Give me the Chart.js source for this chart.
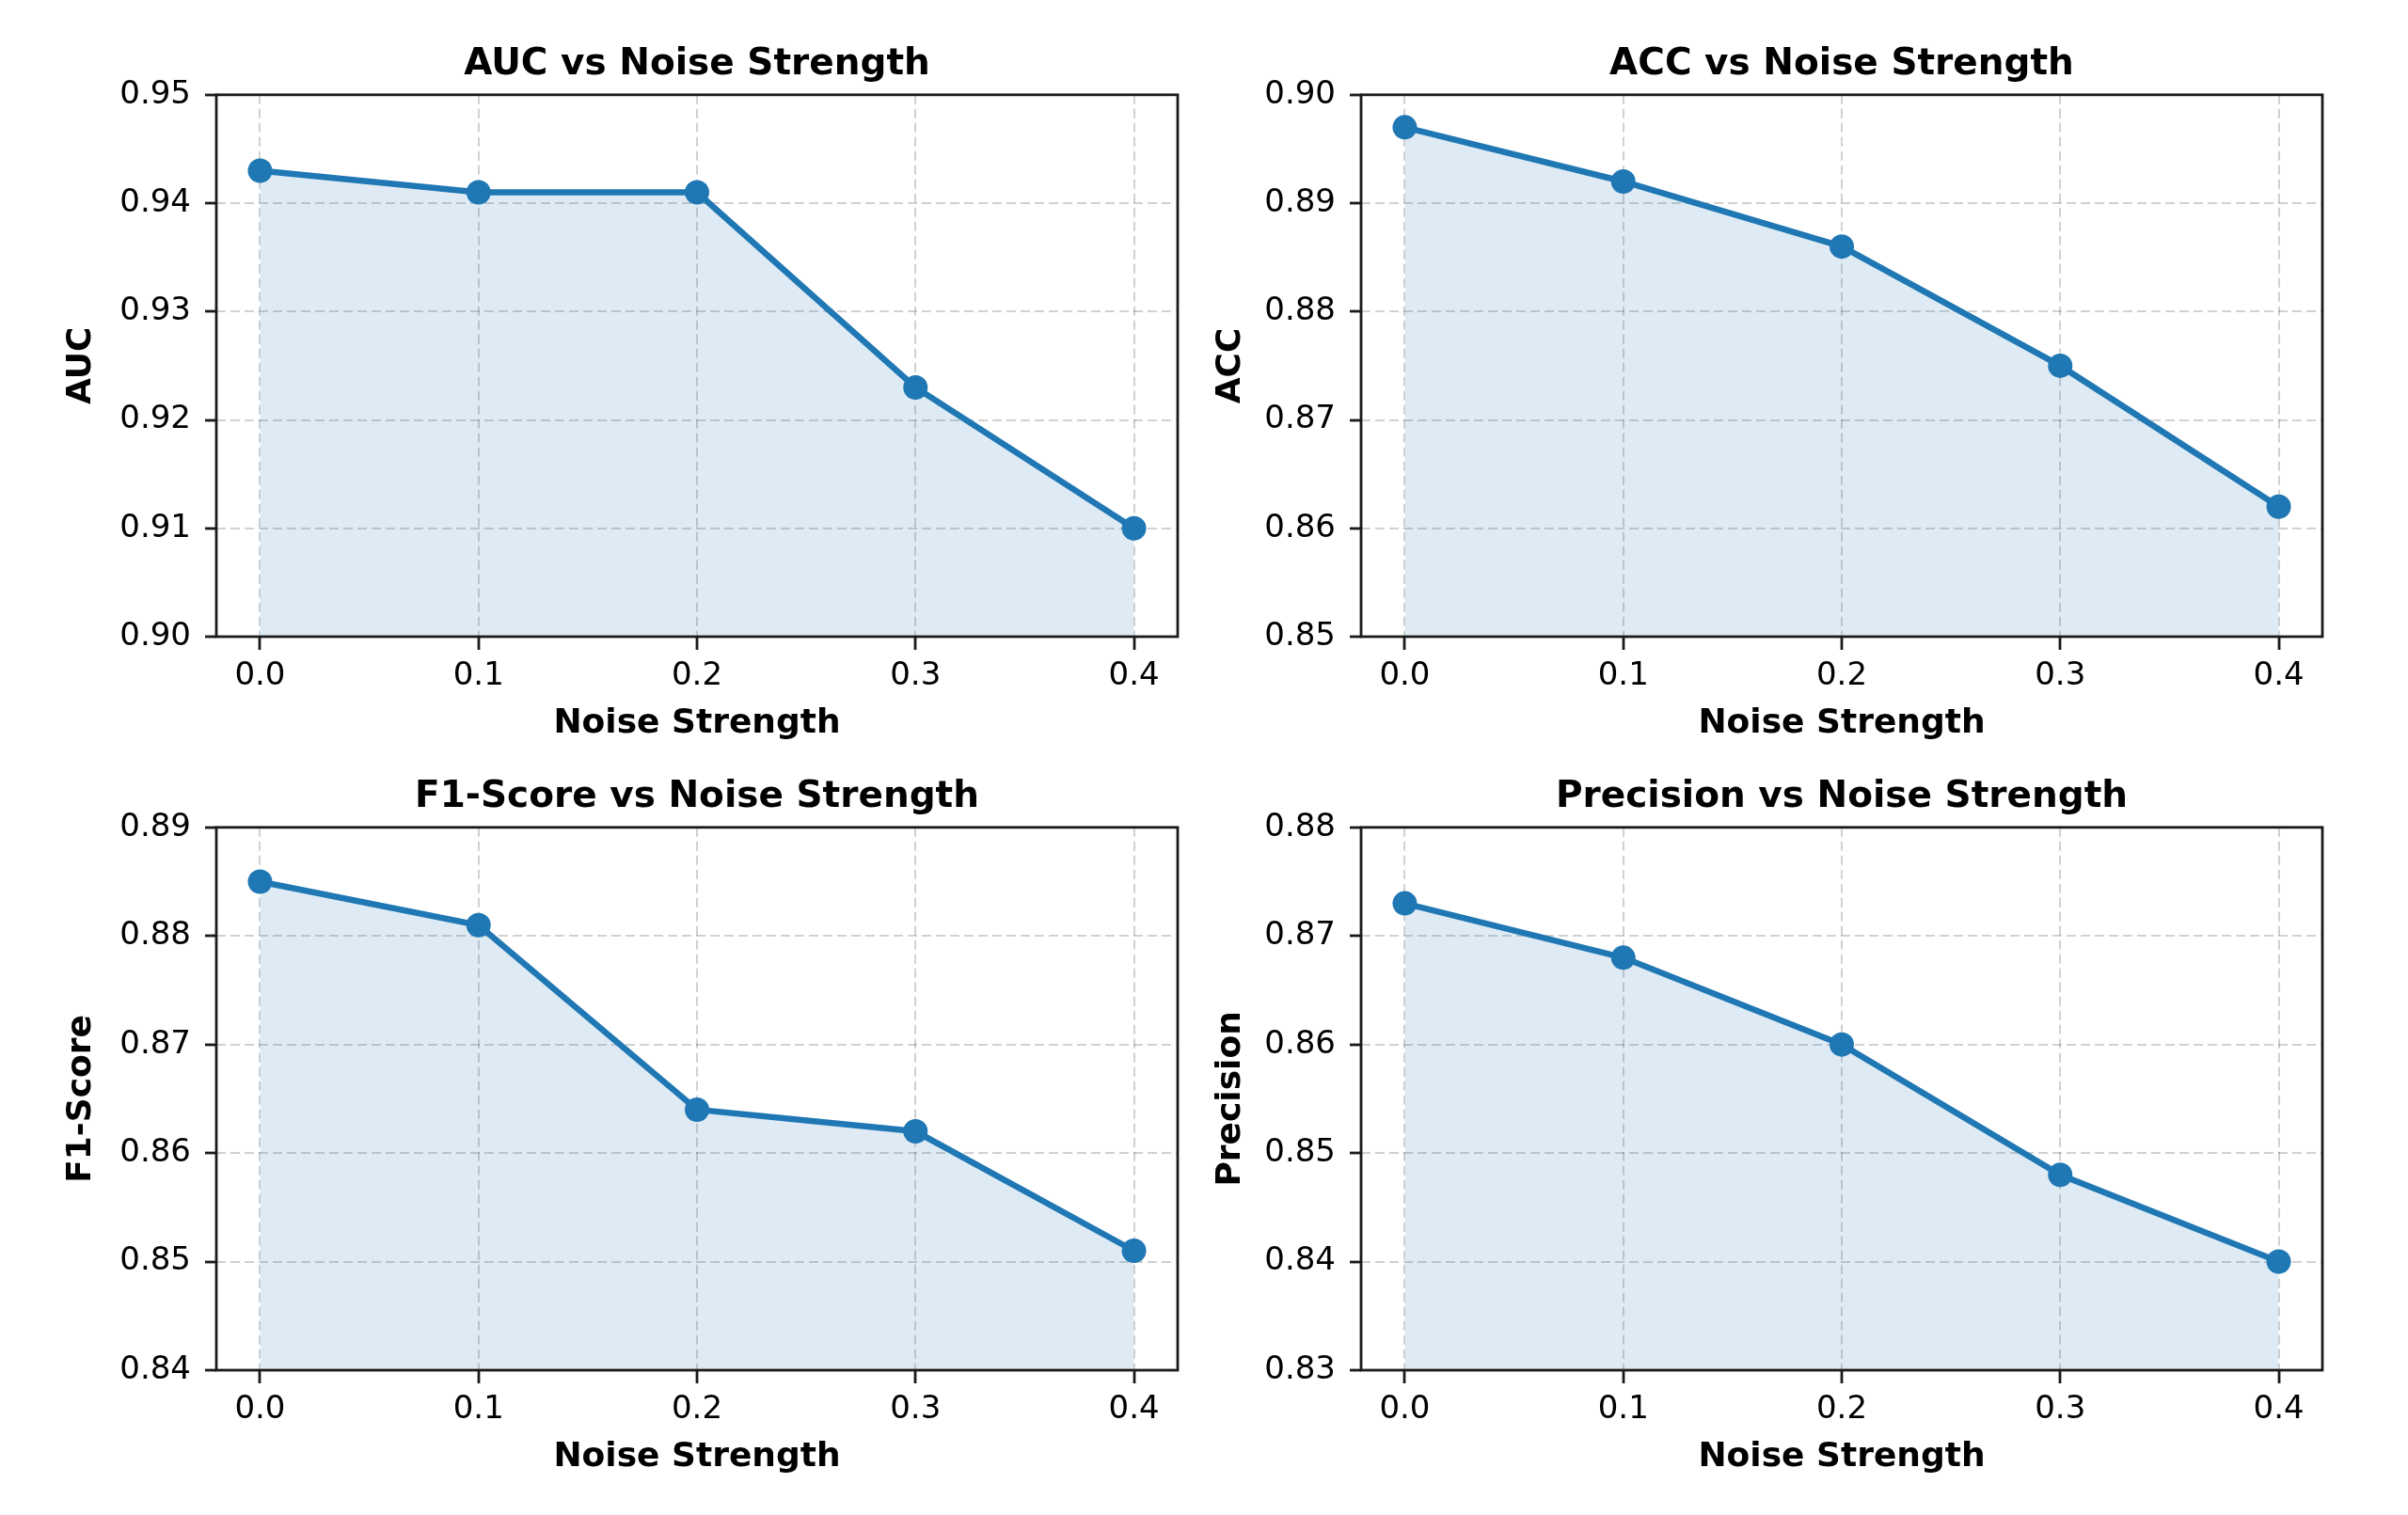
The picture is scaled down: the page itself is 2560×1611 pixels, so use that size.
<!DOCTYPE html>
<html>
<head>
<meta charset="utf-8">
<title>Metrics vs Noise Strength</title>
<script src="https://cdn.jsdelivr.net/npm/chart.js@4.4.1/dist/chart.umd.min.js"></script>
<style>
    html, body { margin: 0; padding: 0; background: #ffffff; }
    #board { position: relative; width: 2560px; height: 1611px; }
    .panel { position: absolute; }
</style>
</head>
<body>
<div id="board"></div>
<script>
// Data
const noiseLevels = [0.0, 0.1, 0.2, 0.3, 0.4];

const aucValues = [0.943, 0.941, 0.941, 0.923, 0.910];
const accValues = [0.897, 0.892, 0.886, 0.875, 0.862];
const f1Values = [0.885, 0.881, 0.864, 0.862, 0.851];
const precisionValues = [0.873, 0.868, 0.860, 0.848, 0.840];

const aucTicks = [0.90, 0.91, 0.92, 0.93, 0.94, 0.95];
const accTicks = [0.85, 0.86, 0.87, 0.88, 0.89, 0.90];
const f1Ticks = [0.84, 0.85, 0.86, 0.87, 0.88, 0.89];
const precisionTicks = [0.83, 0.84, 0.85, 0.86, 0.87, 0.88];

const xTickLabels = ['0.0', '0.1', '0.2', '0.3', '0.4'];

const FONT = '"DejaVu Sans", "Liberation Sans", sans-serif';
const LINE_COLOR = '#1f77b4';

// Layout of the four panels (canvas box + paddings)
const panels = [
    { metric: 'AUC', values: aucValues, ticks: aucTicks, left: 0, top: 0, height: 800,
      yWidth: 230, yTitlePad: 65, padRight: 28, padBottom: 3, titlePadTop: 45 },
    { metric: 'ACC', values: accValues, ticks: accTicks, left: 1280, top: 0, height: 800,
      yWidth: 167, yTitlePad: 7, padRight: 91, padBottom: 3, titlePadTop: 45 },
    { metric: 'F1-Score', values: f1Values, ticks: f1Ticks, left: 0, top: 800, height: 811,
      yWidth: 230, yTitlePad: 65, padRight: 28, padBottom: 34, titlePadTop: 24 },
    { metric: 'Precision', values: precisionValues, ticks: precisionTicks, left: 1280, top: 800, height: 811,
      yWidth: 167, yTitlePad: 7, padRight: 91, padBottom: 34, titlePadTop: 24 }
];

// Draw the four spines around the plot area
const frameBox = {
    id: 'frameBox',
    afterDatasetsDraw(chart) {
        const { ctx, chartArea } = chart;
        ctx.save();
        ctx.strokeStyle = '#1a1a1a';
        ctx.lineWidth = 2.8;
        ctx.strokeRect(chartArea.left, chartArea.top,
            chartArea.right - chartArea.left, chartArea.bottom - chartArea.top);
        ctx.restore();
    }
};

function buildPanel(panel) {
    const holder = document.createElement('div');
    holder.className = 'panel';
    holder.style.left = panel.left + 'px';
    holder.style.top = panel.top + 'px';

    const canvas = document.createElement('canvas');
    canvas.width = 1280;
    canvas.height = panel.height;
    canvas.style.width = '1280px';
    canvas.style.height = panel.height + 'px';
    holder.appendChild(canvas);
    document.getElementById('board').appendChild(holder);

    const points = noiseLevels.map((x, i) => ({ x: x, y: panel.values[i] }));
    const yMin = panel.ticks[0];
    const yMax = panel.ticks[panel.ticks.length - 1];

    const gridStyle = {
        color: 'rgba(0, 0, 0, 0.18)',
        lineWidth: 2,
        tickColor: '#1a1a1a',
        tickWidth: 2.8,
        tickBorderDash: []
    };

    return new Chart(canvas.getContext('2d'), {
        type: 'line',
        data: {
            datasets: [{
                data: points,
                borderColor: LINE_COLOR,
                borderWidth: 6.5,
                backgroundColor: 'rgba(31, 119, 180, 0.15)',
                fill: 'start',
                tension: 0,
                pointRadius: 13,
                pointHoverRadius: 13,
                pointBackgroundColor: LINE_COLOR,
                pointBorderWidth: 0
            }]
        },
        options: {
            responsive: false,
            animation: false,
            devicePixelRatio: 1,
            layout: {
                padding: { left: 0, right: panel.padRight, top: 0, bottom: panel.padBottom }
            },
            plugins: {
                legend: { display: false },
                tooltip: { enabled: false },
                title: {
                    display: true,
                    fullSize: false,
                    text: panel.metric + ' vs Noise Strength',
                    color: '#000000',
                    font: { family: FONT, size: 39, weight: 'bold' },
                    padding: { top: panel.titlePadTop, bottom: 9 }
                }
            },
            scales: {
                x: {
                    type: 'linear',
                    min: -0.02,
                    max: 0.42,
                    afterBuildTicks: (scale) => {
                        scale.ticks = noiseLevels.map(v => ({ value: v }));
                    },
                    afterFit: (scale) => { scale.height = 120; },
                    ticks: {
                        color: '#000000',
                        font: { family: FONT, size: 34 },
                        padding: 8,
                        maxRotation: 0,
                        autoSkip: false,
                        callback: (value, index) => xTickLabels[index]
                    },
                    grid: Object.assign({ tickLength: 14 }, gridStyle),
                    border: { display: false, dash: [10, 5] },
                    title: {
                        display: true,
                        text: 'Noise Strength',
                        color: '#000000',
                        font: { family: FONT, size: 36, weight: 'bold' },
                        padding: { top: 0, bottom: 6 }
                    }
                },
                y: {
                    type: 'linear',
                    min: yMin,
                    max: yMax,
                    afterBuildTicks: (scale) => {
                        scale.ticks = panel.ticks.map(v => ({ value: v }));
                    },
                    afterFit: (scale) => { scale.width = panel.yWidth; },
                    ticks: {
                        color: '#000000',
                        font: { family: FONT, size: 34 },
                        padding: 15,
                        autoSkip: false,
                        callback: (value) => Number(value).toFixed(2)
                    },
                    grid: Object.assign({ tickLength: 12 }, gridStyle),
                    border: { display: false, dash: [10, 5] },
                    title: {
                        display: true,
                        text: panel.metric,
                        color: '#000000',
                        font: { family: FONT, size: 36, weight: 'bold' },
                        padding: { top: panel.yTitlePad, bottom: 0 }
                    }
                }
            }
        },
        plugins: [frameBox]
    });
}

panels.forEach(buildPanel);
</script>
</body>
</html>
